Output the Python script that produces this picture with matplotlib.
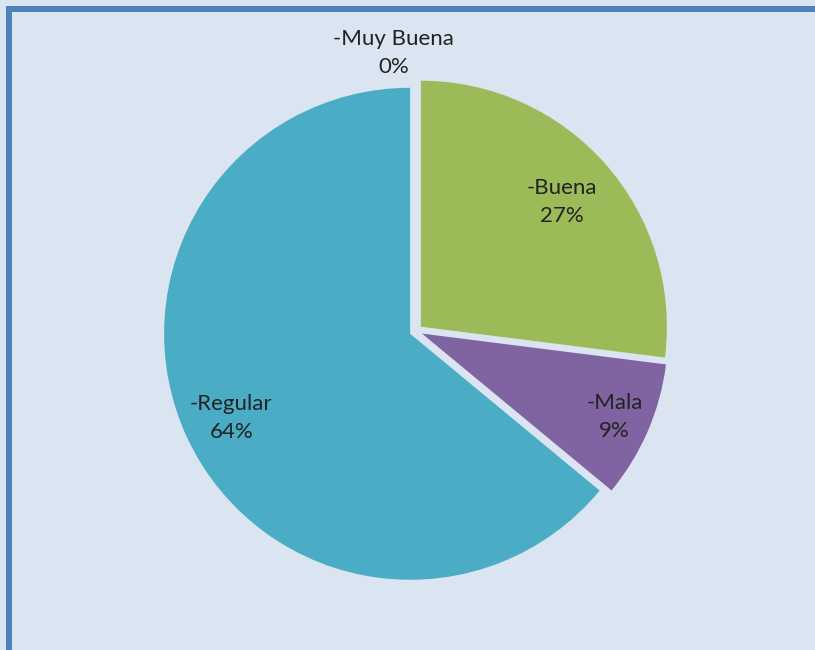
import numpy as np
import matplotlib
matplotlib.use("Agg")
import matplotlib.pyplot as plt
from matplotlib.patches import Rectangle

categories = ["-Muy Buena", "-Buena", "-Mala", "-Regular"]
values = [0, 27, 9, 64]
pct_labels = ["0%", "27%", "9%", "64%"]
colors = ["#4F81BD", "#9BBB59", "#8064A2", "#4BACC6"]

plt.rcParams['font.family'] = ['Lato', 'DejaVu Sans']

W, H = 815, 650
fig = plt.figure(figsize=(W / 100, H / 100), dpi=100)
fig.patch.set_facecolor("#DBE5F1")
ax = fig.add_axes([0, 0, 1, 1])

cx, cy, R = 416, 319, 246
explode = [6.5] * len(values)  # data units (pixels)
wedges, _ = ax.pie(values, colors=colors, startangle=90, counterclock=False,
                   explode=explode, radius=R, center=(cx, cy),
                   wedgeprops=dict(edgecolor="none", linewidth=0),
                   frame=True)
ax.set_xlim(0, W)
ax.set_ylim(0, H)
ax.set_aspect("equal")
ax.axis("off")

# label radial distances (fraction of radius) and horizontal nudge (fraction of radius)
label_dist = [1.13, 0.79, 0.88, 0.83]
label_dx = [-0.09, 0.0, 0.0, 0.0]
for w, cat, pct, d, dx in zip(wedges, categories, pct_labels, label_dist, label_dx):
    mid = np.deg2rad((w.theta1 + w.theta2) / 2)
    x = cx + d * R * np.cos(mid) + dx * R
    y = cy + d * R * np.sin(mid)
    ax.text(x, y, f"{cat}\n{pct}", ha="center", va="center", fontsize=16,
            color="#222222", linespacing=1.5)

# border (top and left)
bc = "#4F81BD"
fig.patches.append(Rectangle((6, 0), 6, H - 6, transform=None, facecolor=bc, edgecolor="none"))
fig.patches.append(Rectangle((6, H - 12), W - 6, 6, transform=None, facecolor=bc, edgecolor="none"))

fig.savefig("out.png", dpi=100, facecolor=fig.get_facecolor())
